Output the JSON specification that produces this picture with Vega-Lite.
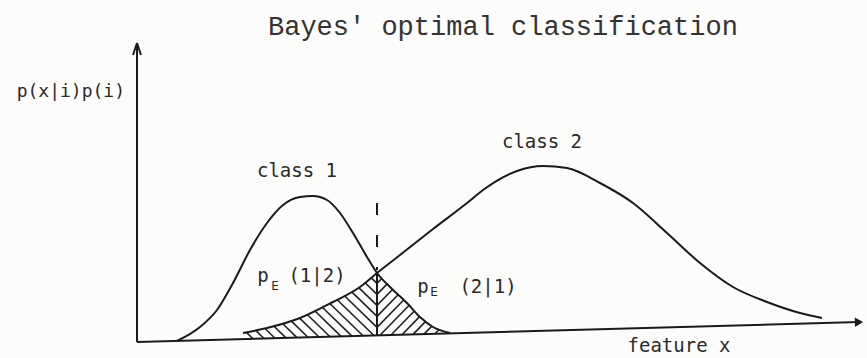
{
  "$schema": "https://vega.github.io/schema/vega-lite/v6.json",
  "width": 728,
  "height": 300,
  "autosize": {"type": "none"},
  "padding": {"left": 137, "top": 42, "right": 2, "bottom": 16},
  "background": "#fcfcfa",
  "config": {"view": {"stroke": null}},
  "datasets": {
    "curves": [
      {"series": "class 1", "x": 40, "y": 1},
      {"series": "class 1", "x": 63, "y": 15},
      {"series": "class 1", "x": 80, "y": 32},
      {"series": "class 1", "x": 96, "y": 59},
      {"series": "class 1", "x": 113, "y": 92},
      {"series": "class 1", "x": 130, "y": 119},
      {"series": "class 1", "x": 146, "y": 137},
      {"series": "class 1", "x": 163, "y": 145},
      {"series": "class 1", "x": 176, "y": 146},
      {"series": "class 1", "x": 190, "y": 142},
      {"series": "class 1", "x": 203, "y": 129},
      {"series": "class 1", "x": 216, "y": 109},
      {"series": "class 1", "x": 230, "y": 85},
      {"series": "class 1", "x": 240, "y": 69},
      {"series": "class 1", "x": 253, "y": 55},
      {"series": "class 1", "x": 270, "y": 39},
      {"series": "class 1", "x": 283, "y": 25},
      {"series": "class 1", "x": 296, "y": 15},
      {"series": "class 1", "x": 313, "y": 9},
      {"series": "class 2", "x": 106, "y": 9},
      {"series": "class 2", "x": 130, "y": 14},
      {"series": "class 2", "x": 163, "y": 24},
      {"series": "class 2", "x": 196, "y": 40},
      {"series": "class 2", "x": 223, "y": 55},
      {"series": "class 2", "x": 240, "y": 69},
      {"series": "class 2", "x": 263, "y": 87},
      {"series": "class 2", "x": 296, "y": 113},
      {"series": "class 2", "x": 330, "y": 139},
      {"series": "class 2", "x": 346, "y": 152},
      {"series": "class 2", "x": 380, "y": 171},
      {"series": "class 2", "x": 406, "y": 176},
      {"series": "class 2", "x": 430, "y": 174},
      {"series": "class 2", "x": 463, "y": 159},
      {"series": "class 2", "x": 496, "y": 139},
      {"series": "class 2", "x": 530, "y": 109},
      {"series": "class 2", "x": 563, "y": 79},
      {"series": "class 2", "x": 596, "y": 55},
      {"series": "class 2", "x": 630, "y": 40},
      {"series": "class 2", "x": 663, "y": 29},
      {"series": "class 2", "x": 685, "y": 24}
    ],
    "axes": [
      {"x": 0, "y": 0, "x2": 0, "y2": 299},
      {"x": 0, "y": 0, "x2": 722, "y2": 19.9},
      {"x": 0, "y": 299, "x2": -4, "y2": 287},
      {"x": 0, "y": 299, "x2": 4, "y2": 287},
      {"x": 240, "y": 69, "x2": 240, "y2": 6.6}
    ],
    "hatch": [
      {"x": 109.4, "y": 9.6, "x2": 116, "y2": 3.2},
      {"x": 118.9, "y": 11.4, "x2": 127, "y2": 3.5},
      {"x": 128.3, "y": 13.2, "x2": 138, "y2": 3.8},
      {"x": 137, "y": 15.8, "x2": 149, "y2": 4.1},
      {"x": 145.5, "y": 18.5, "x2": 160, "y2": 4.4},
      {"x": 154.1, "y": 21.1, "x2": 171, "y2": 4.7},
      {"x": 162.6, "y": 23.9, "x2": 182, "y2": 5.0},
      {"x": 170.2, "y": 27.5, "x2": 193, "y2": 5.3},
      {"x": 177.7, "y": 31.2, "x2": 204, "y2": 5.6},
      {"x": 185.3, "y": 34.8, "x2": 215, "y2": 5.9},
      {"x": 192.8, "y": 38.5, "x2": 226, "y2": 6.2},
      {"x": 200.2, "y": 42.3, "x2": 237, "y2": 6.5},
      {"x": 207.4, "y": 46.3, "x2": 240, "y2": 14.6},
      {"x": 214.5, "y": 50.4, "x2": 240, "y2": 25.6},
      {"x": 221.7, "y": 54.4, "x2": 240, "y2": 36.6},
      {"x": 228.1, "y": 59.2, "x2": 240, "y2": 47.6},
      {"x": 234.3, "y": 64.1, "x2": 240, "y2": 58.6},
      {"x": 240, "y": 58.6, "x2": 244.9, "y2": 63.6},
      {"x": 240, "y": 47.6, "x2": 250.2, "y2": 58.1},
      {"x": 240, "y": 36.6, "x2": 255.5, "y2": 52.5},
      {"x": 240, "y": 25.6, "x2": 261.1, "y2": 47.3},
      {"x": 240, "y": 14.6, "x2": 266.7, "y2": 42.0},
      {"x": 243, "y": 6.7, "x2": 272.2, "y2": 36.7},
      {"x": 254, "y": 7.0, "x2": 277.4, "y2": 31.0},
      {"x": 265, "y": 7.3, "x2": 282.6, "y2": 25.4},
      {"x": 276, "y": 7.6, "x2": 288.7, "y2": 20.6},
      {"x": 287, "y": 7.9, "x2": 294.8, "y2": 15.9},
      {"x": 298, "y": 8.2, "x2": 302.4, "y2": 12.7}
    ],
    "boundary": [{"x": 240, "y": 139, "y2": 72}],
    "arrowhead": [{"x": 722, "y": 19.9}],
    "labels": [
      {"kind": "title", "text": "Bayes' optimal classification", "x": 131, "y": 307},
      {"kind": "ylab", "text": "p(x|i)p(i)", "x": -12, "y": 245},
      {"kind": "main", "text": "class 1", "x": 160, "y": 165},
      {"kind": "main", "text": "class 2", "x": 405, "y": 194},
      {"kind": "main", "text": "feature x", "x": 542, "y": -10},
      {"kind": "main", "text": "p", "x": 126, "y": 60},
      {"kind": "main", "text": "(1|2)", "x": 180, "y": 60},
      {"kind": "sub", "text": "E", "x": 138, "y": 52},
      {"kind": "main", "text": "p", "x": 286, "y": 49},
      {"kind": "sub", "text": "E", "x": 297, "y": 46},
      {"kind": "main", "text": "(2|1)", "x": 351, "y": 49}
    ]
  },
  "layer": [
    {
      "data": {"name": "hatch"},
      "mark": {"type": "rule", "color": "#222", "strokeWidth": 1.6},
      "encoding": {
        "x": {"field": "x", "type": "quantitative", "scale": {"domain": [0, 728], "nice": false, "zero": false}, "axis": null},
        "y": {"field": "y", "type": "quantitative", "scale": {"domain": [0, 300], "nice": false, "zero": false}, "axis": null},
        "x2": {"field": "x2"},
        "y2": {"field": "y2"}
      }
    },
    {
      "data": {"name": "axes"},
      "mark": {"type": "rule", "color": "#1a1a1a", "strokeWidth": 2},
      "encoding": {
        "x": {"field": "x", "type": "quantitative", "scale": {"domain": [0, 728], "nice": false, "zero": false}, "axis": null},
        "y": {"field": "y", "type": "quantitative", "scale": {"domain": [0, 300], "nice": false, "zero": false}, "axis": null},
        "x2": {"field": "x2"},
        "y2": {"field": "y2"}
      }
    },
    {
      "data": {"name": "boundary"},
      "mark": {"type": "rule", "color": "#1a1a1a", "strokeWidth": 2, "strokeDash": [12, 20]},
      "encoding": {
        "x": {"field": "x", "type": "quantitative", "scale": {"domain": [0, 728], "nice": false, "zero": false}, "axis": null},
        "y": {"field": "y", "type": "quantitative", "scale": {"domain": [0, 300], "nice": false, "zero": false}, "axis": null},
        "y2": {"field": "y2"}
      }
    },
    {
      "data": {"name": "arrowhead"},
      "mark": {"type": "point", "shape": "triangle-right", "filled": true, "color": "#1a1a1a", "size": 90, "opacity": 1, "angle": -1.6},
      "encoding": {
        "x": {"field": "x", "type": "quantitative", "scale": {"domain": [0, 728], "nice": false, "zero": false}, "axis": null},
        "y": {"field": "y", "type": "quantitative", "scale": {"domain": [0, 300], "nice": false, "zero": false}, "axis": null}
      }
    },
    {
      "data": {"name": "curves"},
      "mark": {"type": "line", "color": "#1a1a1a", "strokeWidth": 2, "interpolate": "monotone"},
      "encoding": {
        "x": {"field": "x", "type": "quantitative", "scale": {"domain": [0, 728], "nice": false, "zero": false}, "axis": null},
        "y": {"field": "y", "type": "quantitative", "scale": {"domain": [0, 300], "nice": false, "zero": false}, "axis": null},
        "detail": {"field": "series", "type": "nominal"}
      }
    },
    {
      "data": {"name": "labels"},
      "transform": [{"filter": "datum.kind === 'title'"}],
      "mark": {"type": "text", "font": "Liberation Mono", "fontSize": 27, "align": "left", "baseline": "alphabetic", "color": "#333"},
      "encoding": {
        "x": {"field": "x", "type": "quantitative", "scale": {"domain": [0, 728], "nice": false, "zero": false}, "axis": null},
        "y": {"field": "y", "type": "quantitative", "scale": {"domain": [0, 300], "nice": false, "zero": false}, "axis": null},
        "text": {"field": "text"}
      }
    },
    {
      "data": {"name": "labels"},
      "transform": [{"filter": "datum.kind === 'ylab'"}],
      "mark": {"type": "text", "font": "DejaVu Sans Mono", "fontSize": 18, "align": "right", "baseline": "alphabetic", "color": "#2a2a2a"},
      "encoding": {
        "x": {"field": "x", "type": "quantitative", "scale": {"domain": [0, 728], "nice": false, "zero": false}, "axis": null},
        "y": {"field": "y", "type": "quantitative", "scale": {"domain": [0, 300], "nice": false, "zero": false}, "axis": null},
        "text": {"field": "text"}
      }
    },
    {
      "data": {"name": "labels"},
      "transform": [{"filter": "datum.kind === 'main'"}],
      "mark": {"type": "text", "font": "DejaVu Sans Mono", "fontSize": 19, "align": "center", "baseline": "alphabetic", "color": "#2a2a2a"},
      "encoding": {
        "x": {"field": "x", "type": "quantitative", "scale": {"domain": [0, 728], "nice": false, "zero": false}, "axis": null},
        "y": {"field": "y", "type": "quantitative", "scale": {"domain": [0, 300], "nice": false, "zero": false}, "axis": null},
        "text": {"field": "text"}
      }
    },
    {
      "data": {"name": "labels"},
      "transform": [{"filter": "datum.kind === 'sub'"}],
      "mark": {"type": "text", "font": "DejaVu Sans", "fontSize": 12, "align": "center", "baseline": "alphabetic", "color": "#2a2a2a"},
      "encoding": {
        "x": {"field": "x", "type": "quantitative", "scale": {"domain": [0, 728], "nice": false, "zero": false}, "axis": null},
        "y": {"field": "y", "type": "quantitative", "scale": {"domain": [0, 300], "nice": false, "zero": false}, "axis": null},
        "text": {"field": "text"}
      }
    }
  ]
}
